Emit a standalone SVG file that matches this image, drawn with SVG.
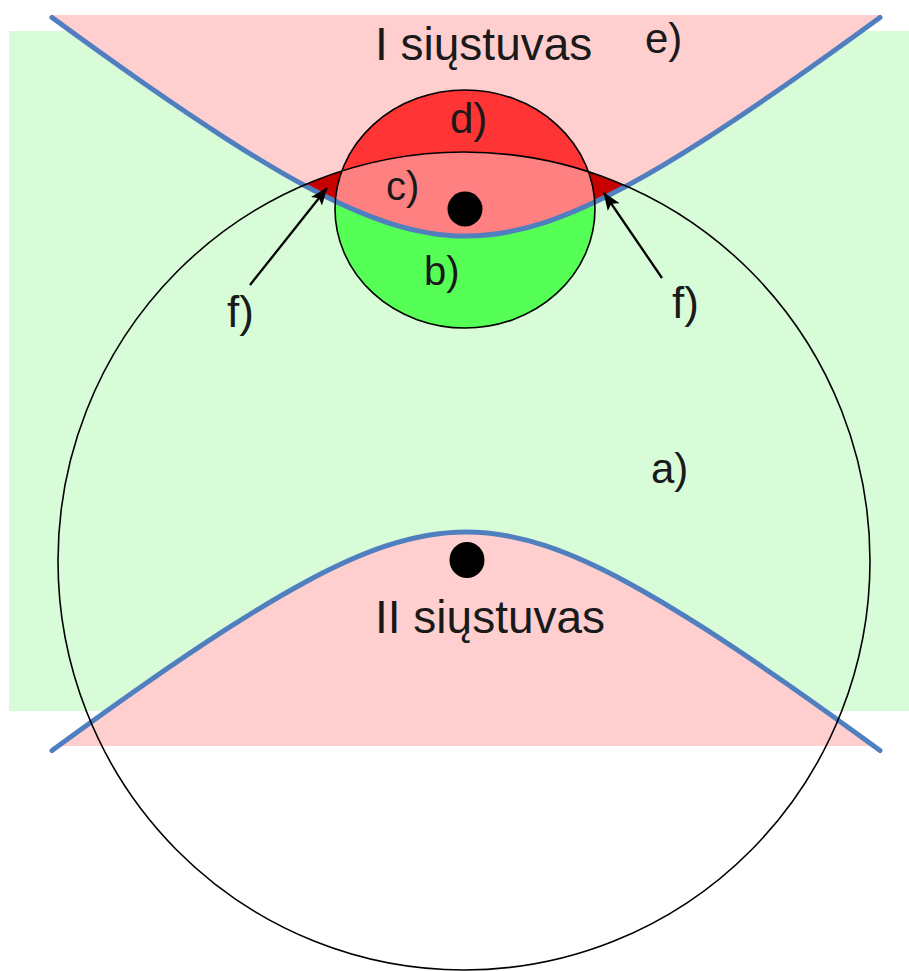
<svg xmlns="http://www.w3.org/2000/svg" width="909" height="971" viewBox="0 0 909 971">
<defs>
<style>
.lbl{font-family:"Liberation Sans",Arial,sans-serif;fill:#1a1a1a}
.blue{fill:none;stroke:#4f7fbe;stroke-width:5;stroke-linecap:round}
.ring{fill:none;stroke:#000;stroke-width:1.6}
.arr{fill:none;stroke:#000;stroke-width:2.3;marker-end:url(#ah)}
</style>
<marker id="ah" markerUnits="userSpaceOnUse" viewBox="0 0 18 14" markerWidth="18" markerHeight="14" refX="17" refY="7" orient="auto">
<path d="M0,0 L18,7 L0,14 L4,7 Z" fill="#000"/>
</marker>
<clipPath id="clipA"><path d="M52,17.5 C83.33,40.38 114.67,62.92 146,84.74 C172.67,103.31 199.33,121.39 226,138.53 C252.67,155.67 279.33,171.9 306,186.26 C332.67,200.62 359.33,213.12 386,222.01 C412.67,230.9 439.33,236 466,236 C492.67,236 519.33,230.9 546,222.01 C572.67,213.12 599.33,200.62 626,186.26 C652.67,171.9 679.33,155.67 706,138.53 C732.67,121.39 759.33,103.31 786,84.74 C817.33,62.92 848.67,40.38 880,17.5 L909,17.5 L909,-10 L0,-10 L0,17.5 Z"/></clipPath>
<clipPath id="clipB"><path d="M52,17.5 C83.33,40.38 114.67,62.92 146,84.74 C172.67,103.31 199.33,121.39 226,138.53 C252.67,155.67 279.33,171.9 306,186.26 C332.67,200.62 359.33,213.12 386,222.01 C412.67,230.9 439.33,236 466,236 C492.67,236 519.33,230.9 546,222.01 C572.67,213.12 599.33,200.62 626,186.26 C652.67,171.9 679.33,155.67 706,138.53 C732.67,121.39 759.33,103.31 786,84.74 C817.33,62.92 848.67,40.38 880,17.5 L909,17.5 L909,971 L0,971 L0,17.5 Z"/></clipPath>
<clipPath id="clipE1"><ellipse cx="465" cy="209" rx="130" ry="119"/></clipPath>
<clipPath id="clipLow"><rect x="0" y="0" width="909" height="746"/></clipPath>
</defs>

<g id="background">
<rect id="green-zone" x="9" y="31" width="900" height="680" fill="#d9fcd8"/>
<path id="pink-zone-I" fill="#ffcfcf" d="M52,17.5 C83.33,40.38 114.67,62.92 146,84.74 C172.67,103.31 199.33,121.39 226,138.53 C252.67,155.67 279.33,171.9 306,186.26 C332.67,200.62 359.33,213.12 386,222.01 C412.67,230.9 439.33,236 466,236 C492.67,236 519.33,230.9 546,222.01 C572.67,213.12 599.33,200.62 626,186.26 C652.67,171.9 679.33,155.67 706,138.53 C732.67,121.39 759.33,103.31 786,84.74 C817.33,62.92 848.67,40.38 880,17.5 L880,15 L52,15 Z"/>
<path id="pink-zone-II" fill="#ffcfcf" clip-path="url(#clipLow)" d="M52,750.5 C83.33,727.62 114.67,705.08 146,683.26 C172.67,664.69 199.33,646.61 226,629.47 C252.67,612.33 279.33,596.1 306,581.74 C332.67,567.38 359.33,554.88 386,545.99 C412.67,537.1 439.33,532 466,532 C492.67,532 519.33,537.1 546,545.99 C572.67,554.88 599.33,567.38 626,581.74 C652.67,596.1 679.33,612.33 706,629.47 C732.67,646.61 759.33,664.69 786,683.26 C817.33,705.08 848.67,727.62 880,750.5 L880,760 L52,760 Z"/>
</g>

<g id="region-f" clip-path="url(#clipA)"><ellipse cx="464" cy="561" rx="406" ry="409" fill="#c80000"/></g>
<g id="region-d"><ellipse cx="465" cy="209" rx="130" ry="119" fill="#ff3535"/></g>
<g id="region-c" clip-path="url(#clipA)"><g clip-path="url(#clipE1)"><ellipse cx="464" cy="561" rx="406" ry="409" fill="#ff8080"/></g></g>
<g id="region-b" clip-path="url(#clipB)"><ellipse cx="465" cy="209" rx="130" ry="119" fill="#55ff55"/></g>

<g id="boundaries">
<path id="boundary-I" class="blue" d="M52,17.5 C83.33,40.38 114.67,62.92 146,84.74 C172.67,103.31 199.33,121.39 226,138.53 C252.67,155.67 279.33,171.9 306,186.26 C332.67,200.62 359.33,213.12 386,222.01 C412.67,230.9 439.33,236 466,236 C492.67,236 519.33,230.9 546,222.01 C572.67,213.12 599.33,200.62 626,186.26 C652.67,171.9 679.33,155.67 706,138.53 C732.67,121.39 759.33,103.31 786,84.74 C817.33,62.92 848.67,40.38 880,17.5"/>
<path id="boundary-II" class="blue" d="M52,750.5 C83.33,727.62 114.67,705.08 146,683.26 C172.67,664.69 199.33,646.61 226,629.47 C252.67,612.33 279.33,596.1 306,581.74 C332.67,567.38 359.33,554.88 386,545.99 C412.67,537.1 439.33,532 466,532 C492.67,532 519.33,537.1 546,545.99 C572.67,554.88 599.33,567.38 626,581.74 C652.67,596.1 679.33,612.33 706,629.47 C732.67,646.61 759.33,664.69 786,683.26 C817.33,705.08 848.67,727.62 880,750.5"/>
</g>

<g id="range-II"><ellipse class="ring" cx="464" cy="561" rx="406" ry="409"/></g>
<g id="range-I"><ellipse class="ring" cx="465" cy="209" rx="130" ry="119"/></g>

<g id="transmitter-I"><circle cx="465" cy="209" r="17.5" fill="#000"/><text class="lbl" x="375" y="60" font-size="46">I siųstuvas</text></g>
<g id="transmitter-II"><ellipse cx="467" cy="560" rx="17.5" ry="18" fill="#000"/><text class="lbl" x="375" y="633" font-size="46">II siųstuvas</text></g>

<g id="labels">
<text class="lbl" x="645" y="53" font-size="42">e)</text>
<text class="lbl" x="450" y="133" font-size="42">d)</text>
<text class="lbl" x="386" y="200" font-size="40">c)</text>
<text class="lbl" x="424" y="285" font-size="40">b)</text>
<text class="lbl" x="651" y="483" font-size="42">a)</text>
<text class="lbl" x="227" y="327" font-size="44">f)</text>
<text class="lbl" x="672" y="318" font-size="44">f)</text>
</g>

<g id="connectors">
<line class="arr" x1="250" y1="285" x2="327" y2="188"/>
<line class="arr" x1="662" y1="278" x2="604" y2="193"/>
</g>
</svg>
